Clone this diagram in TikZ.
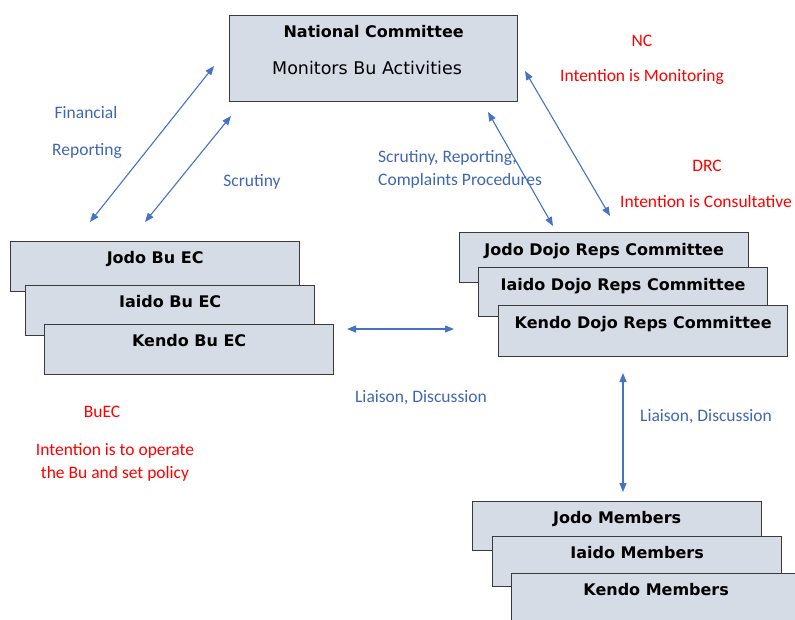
\documentclass[tikz,border=0pt]{standalone}
\usepackage{fontspec}
\setmainfont{DejaVu Sans}
\newfontfamily\lblfont{Carlito}
\usetikzlibrary{arrows.meta}
\definecolor{boxfill}{HTML}{D6DCE5}
\definecolor{boxline}{HTML}{3A3A3A}
\definecolor{arrcol}{HTML}{4472C4}
\definecolor{lblblue}{HTML}{3F66B5}
\definecolor{lblred}{HTML}{FF0000}
\begin{document}
\begin{tikzpicture}[x=1pt,y=-1pt,
  stackbox/.style={draw=boxline, fill=boxfill, line width=1.3pt, anchor=north west,
    inner xsep=0pt, inner ysep=0pt, minimum width=289pt, text height=22pt, text depth=28pt,
    font=\bfseries\fontsize{16}{19}\selectfont},
  bluelbl/.style={text=lblblue, font=\lblfont\fontsize{17.5}{20}\selectfont, inner sep=0pt, anchor=base},
  redlbl/.style={text=lblred, font=\lblfont\fontsize{17.5}{20}\selectfont, inner sep=0pt, anchor=base},
  link/.style={draw=arrcol, line width=1.1pt,
    {Triangle[length=9pt,width=7pt]}-{Triangle[length=9pt,width=7pt]}}]
\useasboundingbox (0,0) rectangle (795,619);
\clip (0,0) rectangle (795,619);

% National Committee
\node[stackbox, minimum width=288pt, text depth=64pt] (nc) at (229,15) {National Committee};
\node[inner sep=0pt, anchor=base, font=\fontsize{17.5}{20}\selectfont] (ncsub) at (367,74) {Monitors Bu Activities};

% Bu EC stack
\node[stackbox] (jbu) at (10,241) {Jodo Bu EC};
\node[stackbox] (ibu) at (25,285) {Iaido Bu EC};
\node[stackbox] (kbu) at (44,324) {Kendo Bu EC};

% Dojo Reps stack
\node[stackbox, text height=23pt, text depth=27pt] (jdr) at (459,232) {Jodo Dojo Reps Committee};
\node[stackbox, text height=23pt, text depth=26pt] (idr) at (478,267) {Iaido Dojo Reps Committee};
\node[stackbox, text height=23pt, text depth=28pt] (kdr) at (498,305) {Kendo Dojo Reps Committee};

% Members stack
\node[stackbox, text depth=27pt] (jm) at (472,501) {Jodo Members};
\node[stackbox] (im) at (492,536) {Iaido Members};
\node[stackbox] (km) at (511,573) {Kendo Members};

% connector end points
\coordinate (fr1) at (214,66);
\coordinate (fr2) at (90,222);
\coordinate (sc1) at (231,116);
\coordinate (sc2) at (145,222);
\coordinate (md1) at (488,112);
\coordinate (md2) at (553,226);
\coordinate (rt1) at (525,71);
\coordinate (rt2) at (610,216);
\coordinate (hz1) at (347,329);
\coordinate (hz2) at (454,329);
\coordinate (vt1) at (623,373);
\coordinate (vt2) at (623,492);

\draw[link] (fr1) -- (fr2);
\draw[link] (sc1) -- (sc2);
\draw[link] (md1) -- (md2);
\draw[link] (rt1) -- (rt2);
\draw[link] (hz1) -- (hz2);
\draw[link] (vt1) -- (vt2);

% blue labels
\node[bluelbl] (lfin) at (86,118) {Financial};
\node[bluelbl] (lrep) at (87,155) {Reporting};
\node[bluelbl] (lscr) at (252,186) {Scrutiny};
\node[bluelbl, anchor=base west] (lsrc1) at (378,162) {Scrutiny, Reporting,};
\node[bluelbl, anchor=base west] (lsrc2) at (378,185) {Complaints Procedures};
\node[bluelbl] (lliai1) at (421,402) {Liaison, Discussion};
\node[bluelbl] (lliai2) at (706,421) {Liaison, Discussion};

% red labels
\node[redlbl] (lnc) at (642,46) {NC};
\node[redlbl] (lnci) at (642,81) {Intention is Monitoring};
\node[redlbl] (ldrc) at (707,171) {DRC};
\node[redlbl] (ldrci) at (706,207) {Intention is Consultative};
\node[redlbl] (lbu) at (102,417) {BuEC};
\node[redlbl] (lbu1) at (115,455) {Intention is to operate};
\node[redlbl] (lbu2) at (115,478) {the Bu and set policy};
\end{tikzpicture}
\end{document}
